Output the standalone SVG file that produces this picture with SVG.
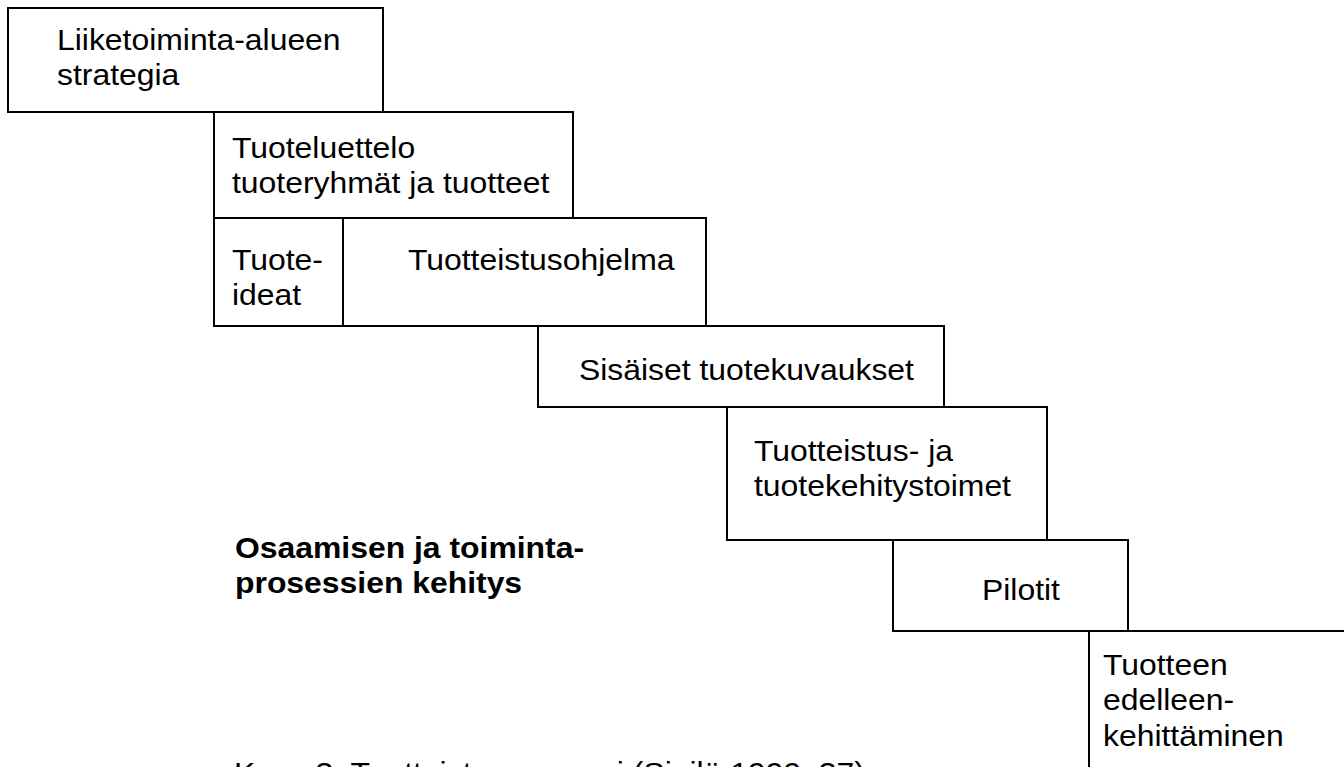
<svg xmlns="http://www.w3.org/2000/svg" width="1344" height="767" viewBox="0 0 1344 767">
<style>
.box{fill:none;stroke:#000;stroke-width:2}
.t{font-family:"Liberation Sans",Arial,sans-serif;font-size:29px;fill:#000}
.b{font-weight:bold}
</style>
<rect width="1344" height="767" fill="#fff"/>
<g id="liiketoiminta">
<rect class="box" x="8" y="8" width="375" height="104"/>
<text class="t" transform="translate(57 50) scale(1.1 1)"><tspan x="0" y="0">Liiketoiminta-alueen</tspan><tspan x="0" y="35">strategia</tspan></text>
</g>
<g id="tuoteluettelo">
<rect class="box" x="214" y="112" width="359" height="106"/>
<text class="t" transform="translate(232 158) scale(1.1 1)"><tspan x="0" y="0">Tuoteluettelo</tspan><tspan x="0" y="35">tuoteryhmät ja tuotteet</tspan></text>
</g>
<g id="tuoteideat">
<rect class="box" x="214" y="218" width="129" height="108"/>
<text class="t" transform="translate(232 270) scale(1.1 1)"><tspan x="0" y="0">Tuote-</tspan><tspan x="0" y="35">ideat</tspan></text>
</g>
<g id="tuotteistusohjelma">
<rect class="box" x="343" y="218" width="363" height="108"/>
<text class="t" transform="translate(408 270) scale(1.1 1)">Tuotteistusohjelma</text>
</g>
<g id="sisaiset">
<rect class="box" x="538" y="326" width="406" height="81"/>
<text class="t" transform="translate(579 380) scale(1.1 1)">Sisäiset tuotekuvaukset</text>
</g>
<g id="tuotekehitys">
<rect class="box" x="727" y="407" width="320" height="133"/>
<text class="t" transform="translate(754 461) scale(1.1 1)"><tspan x="0" y="0">Tuotteistus- ja</tspan><tspan x="0" y="35">tuotekehitystoimet</tspan></text>
</g>
<g id="osaaminen">
<text class="t b" transform="translate(235 558) scale(1.1 1)"><tspan x="0" y="0">Osaamisen ja toiminta-</tspan><tspan x="0" y="35">prosessien kehitys</tspan></text>
</g>
<g id="pilotit">
<rect class="box" x="893" y="540" width="235" height="91"/>
<text class="t" transform="translate(982 600) scale(1.1 1)">Pilotit</text>
</g>
<g id="edelleenkehittaminen">
<rect class="box" x="1089" y="631" width="300" height="200"/>
<text class="t" transform="translate(1103 675) scale(1.1 1)"><tspan x="0" y="0">Tuotteen</tspan><tspan x="0" y="35.5">edelleen-</tspan><tspan x="0" y="71">kehittäminen</tspan></text>
</g>
<g id="caption">
<text class="t" transform="translate(234 783) scale(1.1 1)">Kuva 3. Tuotteistusprosessi (Sipilä 1999, 37)</text>
</g>
</svg>
